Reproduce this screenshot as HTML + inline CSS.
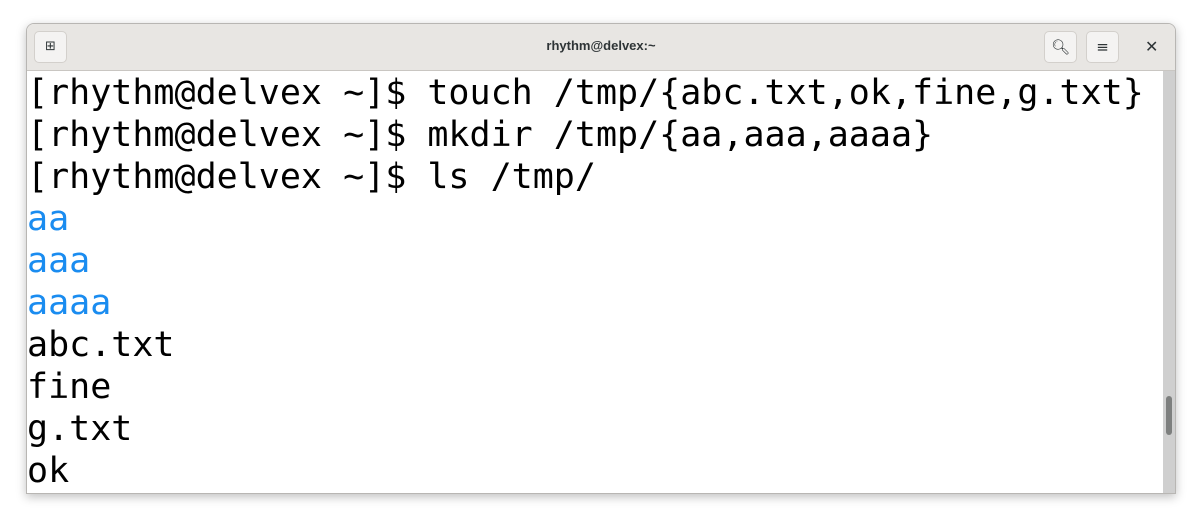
<!DOCTYPE html>
<html><head><style>
html,body{margin:0;padding:0;width:1200px;height:521px;background:#fff;overflow:hidden;}
.win{position:absolute;left:26px;top:23px;width:1148px;height:469px;background:#fff;border:1px solid #b8b6b3;border-radius:8px 8px 0 0;box-shadow:0 3px 10px rgba(0,0,0,.25);overflow:hidden;}
.tb{position:absolute;left:0;top:0;width:100%;height:46px;background:#e8e6e3;border-bottom:1px solid #c9c6c2;}
.title{position:absolute;left:0;width:100%;top:14px;text-align:center;font:bold 13px "Liberation Sans",sans-serif;color:#2e3436;}
.btn{position:absolute;top:7px;width:33px;height:32px;background:#f4f3f2;border:1px solid #d3d0cc;border-radius:5px;box-sizing:border-box;font:15px "DejaVu Sans",sans-serif;color:#2e3436;text-align:center;line-height:30px;}
.term{position:absolute;left:0;top:48px;font:35px/42px "DejaVu Sans Mono",monospace;color:#000;white-space:pre;}
.b{color:#1a8cf0;}
.sb{position:absolute;right:0;top:47px;width:12px;bottom:0;background:#cfcfcf;}
.th{position:absolute;left:3px;top:325px;width:6px;height:39px;background:#7d7f7e;border-radius:3px;}
</style></head><body>
<div class="win">
<div class="tb">
<div class="btn" style="left:7px;font-size:13px">&#x229E;</div>
<div class="title">rhythm@delvex:~</div>
<div class="btn" style="left:1017px">&#x1F50D;&#xFE0E;</div>
<div class="btn" style="left:1059px">&#x2261;</div>
<div style="position:absolute;left:1118px;top:13px;font:16px 'DejaVu Sans',sans-serif;color:#2e3436">&#x2715;</div>
</div>
<div class="term">[rhythm@delvex ~]$ touch /tmp/{abc.txt,ok,fine,g.txt}
[rhythm@delvex ~]$ mkdir /tmp/{aa,aaa,aaaa}
[rhythm@delvex ~]$ ls /tmp/
<span class="b">aa</span>
<span class="b">aaa</span>
<span class="b">aaaa</span>
abc.txt
fine
g.txt
ok</div>
<div class="sb"><div class="th"></div></div>
</div>
</body></html>
